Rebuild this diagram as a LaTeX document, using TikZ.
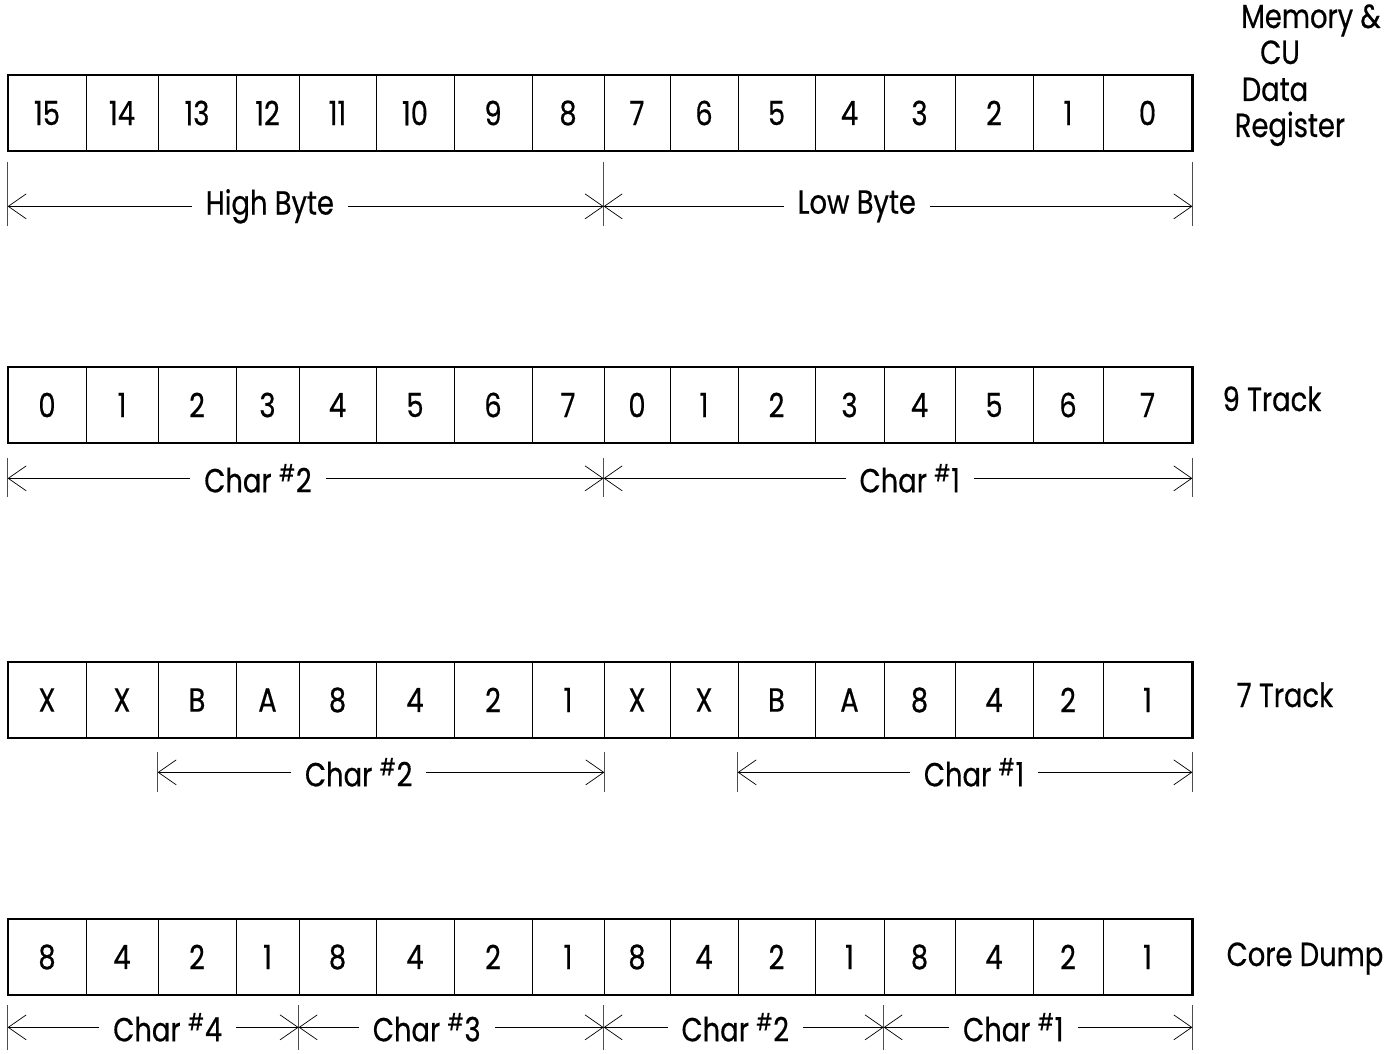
\documentclass[tikz,border=0pt]{standalone}
\usepackage{fontspec}
\setmainfont{Poppins}[FakeStretch=0.82, FakeBold=0.5]
\usetikzlibrary{arrows.meta}
\newcommand\regfont{\fontsize{19pt}{21pt}\selectfont}
\def\edges{{8,86,158,236,299,376,454,532,604,670,738,815,884,955,1033,1103,1192}}
\tikzset{
    reg diagram/.style = {x=0.02cm, y=-0.02cm,
                          >={Straight Barb[length=3.6mm, width=5mm]}},
    cell/.style        = {draw, thin, inner sep=0pt, minimum height=1.52cm,
                          font=\regfont},
    frame/.style       = {draw, line width=1.3pt},
    tick/.style        = {thin, black!70},
    span/.style        = {<->, thin},
    spanlabel/.style   = {fill=white, inner xsep=8pt, inner ysep=1pt,
                          font=\regfont},
    side/.style        = {font=\regfont, anchor=base}
}
% one register row: name, y of centre, cell texts (bit 15 first)
\newcommand\bitrow[3]{%
    \foreach \t [count=\i from 0] in {#3} {
        \pgfmathsetmacro\xl{\edges[\i]}
        \pgfmathsetmacro\xr{\edges[\i+1]}
        \pgfmathsetmacro\w{(\xr-\xl)*0.02}
        \node[cell, minimum width=\w cm] (#1-\i) at ({(\xl+\xr)/2}, #2) {\t};
    }
    \draw[frame] (#1-0.north west) rectangle (#1-15.south east);
}

\begin{document}
\begin{tikzpicture}[reg diagram]
\useasboundingbox (0,0) rectangle (1389,1054);

% ================= Memory & CU data register =================
\bitrow{r1}{113}{15,14,13,12,11,10,9,8,7,6,5,4,3,2,1,0}
\node[side] (reg-a) at (1311,28)  {Memory \&};
\node[side] (reg-b) at (1280,64)  {CU};
\node[side] (reg-c) at (1275,101) {Data};
\node[side] (reg-d) at (1290,137) {Register};

\path (r1-0.south west)  ++(0,55) coordinate (hb-l);
\path (r1-8.south west)  ++(0,55) coordinate (hb-m);
\path (r1-15.south east) ++(0,55) coordinate (hb-r);
\foreach \c in {hb-l,hb-m,hb-r}
    \draw[tick] (\c) +(0,-44) -- +(0,20);
\draw[span] (hb-l) -- (hb-m) node[spanlabel, pos=0.44] (high) {High Byte};
\draw[span] (hb-m) -- (hb-r) node[spanlabel, pos=0.43] (low) {Low Byte};

% ================= 9 track =================
\bitrow{r2}{405}{0,1,2,3,4,5,6,7,0,1,2,3,4,5,6,7}
\node[side] (nine) at (1272,411) {9 Track};

\path (r2-0.south west)  ++(0,35) coordinate (nt-l);
\path (r2-8.south west)  ++(0,35) coordinate (nt-m);
\path (r2-15.south east) ++(0,35) coordinate (nt-r);
\foreach \c in {nt-l,nt-m,nt-r}
    \draw[tick] (\c) +(0,-20) -- +(0,19);
\draw[span] (nt-l) -- (nt-m) node[spanlabel, pos=0.42] (nc2) {Char \textsuperscript{\#}2};
\draw[span] (nt-m) -- (nt-r) node[spanlabel, pos=0.52] (nc1) {Char \textsuperscript{\#}1};

% ================= 7 track =================
\bitrow{r3}{700}{X,X,B,A,8,4,2,1,X,X,B,A,8,4,2,1}
\node[side] (seven) at (1285,707) {7 Track};

\path (r3-2.south west)  ++(0,34) coordinate (st-a);
\path (r3-7.south east)  ++(0,34) coordinate (st-b);
\path (r3-10.south west) ++(0,34) coordinate (st-c);
\path (r3-15.south east) ++(0,34) coordinate (st-d);
\foreach \c in {st-a,st-b,st-c,st-d}
    \draw[tick] (\c) +(0,-20) -- +(0,20);
\draw[span] (st-a) -- (st-b) node[spanlabel, pos=0.45] (sc2) {Char \textsuperscript{\#}2};
\draw[span] (st-c) -- (st-d) node[spanlabel, pos=0.52] (sc1) {Char \textsuperscript{\#}1};

% ================= Core dump =================
\bitrow{r4}{957}{8,4,2,1,8,4,2,1,8,4,2,1,8,4,2,1}
\node[side] (dump) at (1305,966) {Core Dump};

\path (r4-0.south west)  ++(0,32) coordinate (cd-a);
\path (r4-4.south west)  ++(0,32) coordinate (cd-b);
\path (r4-8.south west)  ++(0,32) coordinate (cd-c);
\path (r4-12.south west) ++(0,32) coordinate (cd-d);
\path (r4-15.south east) ++(0,32) coordinate (cd-e);
\foreach \c in {cd-a,cd-b,cd-c,cd-d,cd-e}
    \draw[tick] (\c) +(0,-22) -- +(0,23);
\draw[span] (cd-a) -- (cd-b) node[spanlabel, pos=0.55] (cc4) {Char \textsuperscript{\#}4};
\draw[span] (cd-b) -- (cd-c) node[spanlabel, pos=0.42] (cc3) {Char \textsuperscript{\#}3};
\draw[span] (cd-c) -- (cd-d) node[spanlabel, pos=0.47] (cc2) {Char \textsuperscript{\#}2};
\draw[span] (cd-d) -- (cd-e) node[spanlabel, pos=0.42] (cc1) {Char \textsuperscript{\#}1};

\end{tikzpicture}
\end{document}
